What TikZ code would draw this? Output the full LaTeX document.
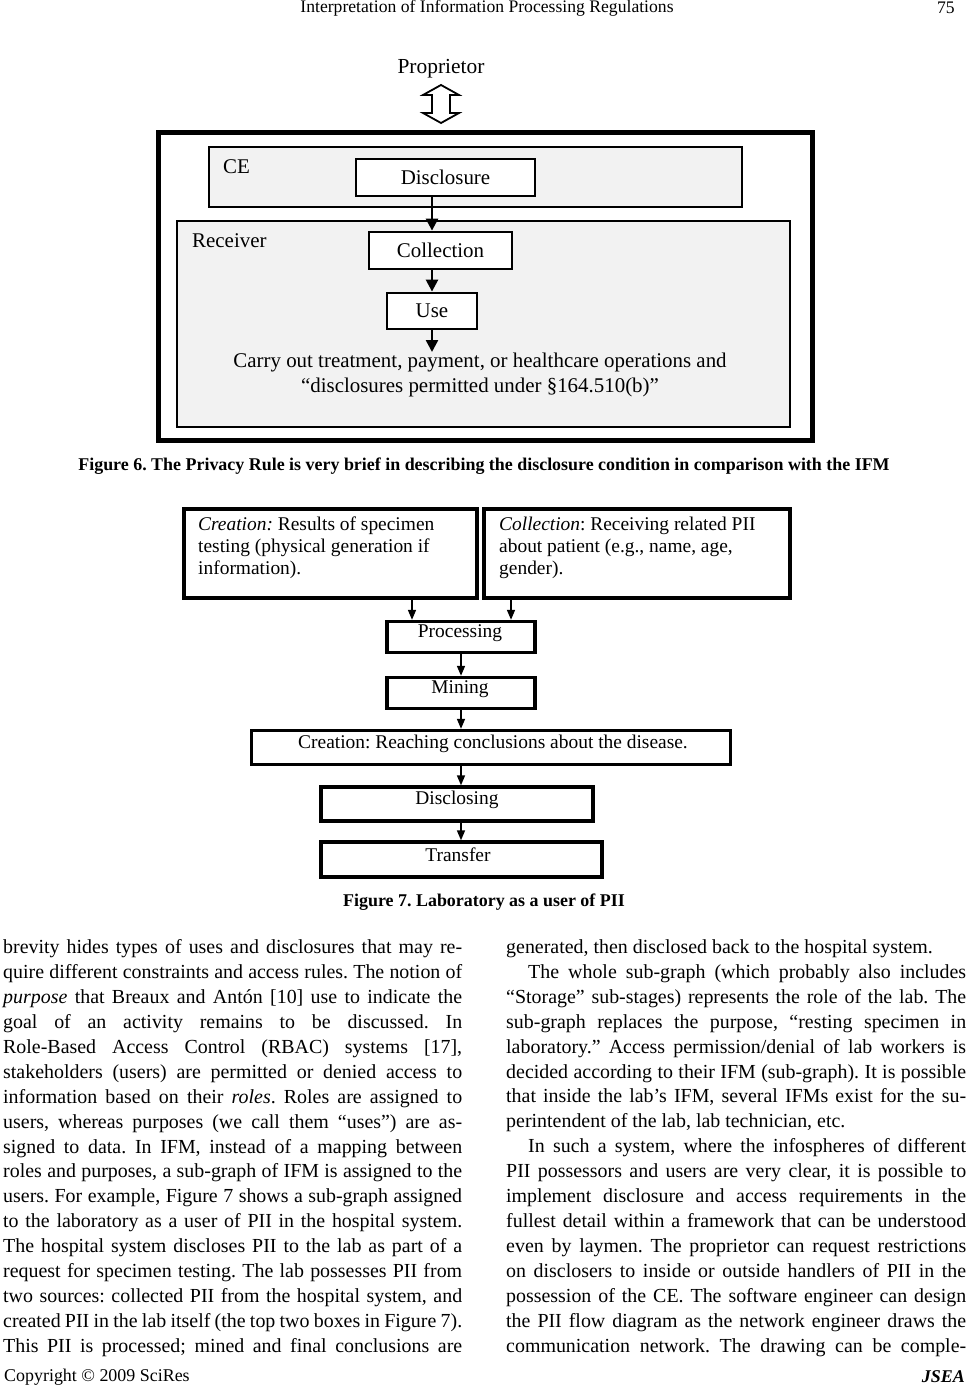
\documentclass[tikz,border=0pt]{standalone}
\usepackage{fontspec}
\setmainfont{Liberation Serif}
\usetikzlibrary{arrows.meta}
\frenchspacing
\newlength{\colw}
\setlength{\colw}{459bp}
\newlength{\colwr}
\setlength{\colwr}{460bp}
\newcommand{\jl}[1]{\makebox[\colw][s]{#1}}
\newcommand{\jr}[1]{\makebox[\colwr][s]{#1}}
\newcommand{\jri}[1]{\hspace*{22bp}\makebox[\dimexpr\colwr-22bp\relax][s]{#1}}
\begin{document}
\begin{tikzpicture}[x=1bp,y=-1bp,
  outerbox/.style={draw, line width=5bp, inner sep=0},
  region/.style={draw, line width=2.5bp, fill=black!5, inner sep=0},
  box6/.style={draw, line width=2.8bp, fill=white, inner sep=0, font=\fontsize{21}{25}\selectfont},
  lab6/.style={inner sep=0, font=\fontsize{21}{25}\selectfont},
  arr6/.style={line width=2.5bp, -{Triangle[length=12bp,width=12bp]}},
  box7/.style={draw, line width=3.8bp, inner sep=0},
  lab7/.style={inner sep=0, font=\fontsize{19.5}{22}\selectfont},
  arr7/.style={line width=1.6bp, -{Triangle[length=10bp,width=8bp]}},
  caption/.style={inner sep=0, font=\fontsize{18}{21}\selectfont\bfseries},
  pagetext/.style={inner sep=0, font=\fontsize{18}{21}\selectfont},
  body/.style={inner sep=0, anchor=north west, align=left, font=\fontsize{20}{25}\selectfont}
]
\useasboundingbox (0,0) rectangle (967,1386);
\fill[white] (0,0) rectangle (967,1386);

% header / footer
\node[pagetext, font=\fontsize{17.7}{20}\selectfont] (head) at (487,8) {Interpretation of Information Processing Regulations};
\node[pagetext, anchor=east, font=\fontsize{17.7}{20}\selectfont] (pnum) at (955,8) {75};
\node[pagetext, anchor=west] (copy) at (4,1377) {Copyright \textcopyright{} 2009 SciRes};
\node[pagetext, anchor=east, font=\fontsize{18}{21}\selectfont\bfseries\itshape] (jsea) at (965,1377) {JSEA};

% ---------------- Figure 6
\node[lab6, font=\fontsize{21.5}{25}\selectfont] (prop) at (441,69) {Proprietor};
\draw[line width=1.8bp, line join=miter] (441,85) -- (423,95) -- (432,95) -- (432,113) -- (423,113) -- (441,123) -- (459,113) -- (450,113) -- (450,95) -- (459,95) -- cycle;

\node[outerbox, minimum width=653bp, minimum height=307bp] (outer) at (485.5,286.5) {};
\node[region, minimum width=533bp, minimum height=60bp] (ce) at (475.5,177) {};
\node[region, minimum width=613bp, minimum height=206bp] (recv) at (483.5,324) {};
\node[lab6, anchor=west] (celab) at (223,167) {CE};
\node[lab6, anchor=west] (recvlab) at (192,241) {Receiver};

\node[box6, minimum width=179bp, minimum height=37bp] (disc) at (445.5,177.5) {Disclosure};
\node[box6, minimum width=143bp, minimum height=37bp] (coll) at (440.5,250.5) {Collection};
\node[box6, minimum width=90bp, minimum height=36bp] (use) at (432,311) {Use};
\node[lab6, anchor=north, align=center, inner sep=1bp] (purp) at (480,352) {Carry out treatment, payment, or healthcare operations and\\ \textquotedblleft disclosures permitted under \S164.510(b)\textquotedblright};
\coordinate (ax) at (432,0);
\draw[arr6] (disc.south -| ax) -- (coll.north -| ax);
\draw[arr6] (coll.south -| ax) -- (use.north -| ax);
\draw[arr6] (use.south -| ax) -- (purp.north -| ax);

\node[caption] (cap6) at (484,466) {Figure 6. The Privacy Rule is very brief in describing the disclosure condition in comparison with the IFM};

% ---------------- Figure 7
\node[box7, minimum width=293bp, minimum height=89bp] (cre) at (330.5,553.5) {};
\node[box7, minimum width=306bp, minimum height=89bp] (col) at (637,553.5) {};
\node[lab7, anchor=north west, align=left] (cretxt) at (198,517) {\textit{Creation:} Results of specimen\\testing (physical generation if\\information).};
\node[lab7, anchor=north west, align=left] (coltxt) at (499,517) {\textit{Collection}: Receiving related PII\\about patient (e.g., name, age,\\gender).};

\node[box7, line width=3.4bp, minimum width=148bp, minimum height=31bp] (proc) at (461,637) {};
\node[box7, line width=3.4bp, minimum width=148bp, minimum height=31bp] (mine) at (461,693) {};
\node[box7, line width=3.4bp, minimum width=479bp, minimum height=34bp] (conc) at (491,747.5) {};
\node[box7, line width=3.4bp, minimum width=272bp, minimum height=34bp] (dis7) at (457,804) {};
\node[box7, line width=3.4bp, minimum width=281bp, minimum height=35bp] (tran) at (461.5,859.5) {};

\node[lab7] (proclab) at (460,633) {Processing};
\node[lab7] (minelab) at (460,689) {Mining};
\node[lab7] (conclab) at (493,744) {Creation: Reaching conclusions about the disease.};
\node[lab7] (dis7lab) at (457,800) {Disclosing};
\node[lab7] (tranlab) at (458,855) {Transfer};

\coordinate (xa) at (412,0);
\coordinate (xb) at (511,0);
\coordinate (xc) at (461,0);
\draw[arr7] (cre.south -| xa) -- (proc.north -| xa);
\draw[arr7] (col.south -| xb) -- (proc.north -| xb);
\draw[arr7] (proc.south -| xc) -- (mine.north -| xc);
\draw[arr7] (mine.south -| xc) -- (conc.north -| xc);
\draw[arr7] (conc.south -| xc) -- (dis7.north -| xc);
\draw[arr7] (dis7.south -| xc) -- (tran.north -| xc);

\node[caption] (cap7) at (484,902) {Figure 7. Laboratory as a user of PII};

% ---------------- Body text
\node[body] (colL) at (3,939.5) {%
\jl{brevity hides types of uses and disclosures that may re-}\\
\jl{quire different constraints and access rules. The notion of}\\
\jl{\textit{purpose} that Breaux and Antón [10] use to indicate the}\\
\jl{goal of an activity remains to be discussed. In}\\
\jl{Role-Based Access Control (RBAC) systems [17],}\\
\jl{stakeholders (users) are permitted or denied access to}\\
\jl{information based on their \textit{roles}. Roles are assigned to}\\
\jl{users, whereas purposes (we call them \textquotedblleft uses\textquotedblright) are as-}\\
\jl{signed to data. In IFM, instead of a mapping between}\\
\jl{roles and purposes, a sub-graph of IFM is assigned to the}\\
\jl{users. For example, Figure 7 shows a sub-graph assigned}\\
\jl{to the laboratory as a user of PII in the hospital system.}\\
\jl{The hospital system discloses PII to the lab as part of a}\\
\jl{request for specimen testing. The lab possesses PII from}\\
\jl{two sources: collected PII from the hospital system, and}\\
\jl{created PII in the lab itself (the top two boxes in Figure 7).}\\
\jl{This PII is processed; mined and final conclusions are}};

\node[body] (colR) at (506,939.5) {%
generated, then disclosed back to the hospital system.\\
\jri{The whole sub-graph (which probably also includes}\\
\jr{\textquotedblleft Storage\textquotedblright{} sub-stages) represents the role of the lab. The}\\
\jr{sub-graph replaces the purpose, \textquotedblleft resting specimen in}\\
\jr{laboratory.\textquotedblright{} Access permission/denial of lab workers is}\\
\jr{decided according to their IFM (sub-graph). It is possible}\\
\jr{that inside the lab\textquoteright s IFM, several IFMs exist for the su-}\\
perintendent of the lab, lab technician, etc.\\
\jri{In such a system, where the infospheres of different}\\
\jr{PII possessors and users are very clear, it is possible to}\\
\jr{implement disclosure and access requirements in the}\\
\jr{fullest detail within a framework that can be understood}\\
\jr{even by laymen. The proprietor can request restrictions}\\
\jr{on disclosers to inside or outside handlers of PII in the}\\
\jr{possession of the CE. The software engineer can design}\\
\jr{the PII flow diagram as the network engineer draws the}\\
\jr{communication network. The drawing can be comple-}};
\end{tikzpicture}
\end{document}
